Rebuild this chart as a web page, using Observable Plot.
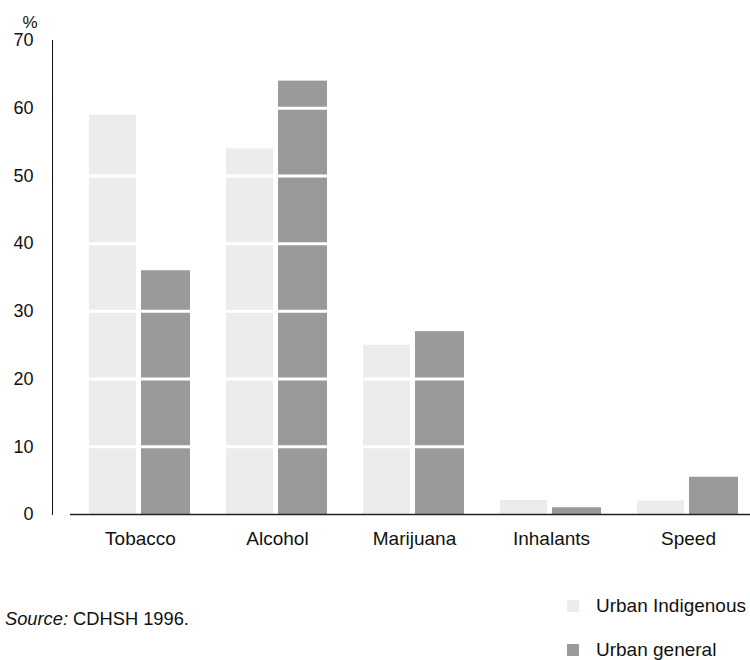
<!DOCTYPE html>
<html>
<head>
<meta charset="utf-8">
<script src="https://cdn.jsdelivr.net/npm/d3@7"></script>
<script src="https://cdn.jsdelivr.net/npm/@observablehq/plot@0.6"></script>
<style>
  html, body { margin: 0; padding: 0; background: #fff; }
  body { width: 750px; height: 660px; overflow: hidden; font-family: "Liberation Sans", Arial, sans-serif; color: #111; }
  #chart { position: absolute; left: 0; top: 0; }
  #foot { position: absolute; left: 0; top: 560px; width: 750px; height: 100px; }
  .src { position: absolute; left: 5px; top: 48px; font-size: 18.3px; }
  .src i { font-style: italic; }
  .leg { position: absolute; left: 567px; font-size: 19px; display: flex; align-items: center; }
  .sw { width: 12px; height: 12px; margin-right: 17px; }
</style>
</head>
<body>
<div id="chart"></div>
<div id="foot">
  <div class="src"><i>Source:</i> CDHSH 1996.</div>
  <div class="leg" style="top:35px"><div class="sw" style="background:#ececec"></div>Urban Indigenous</div>
  <div class="leg" style="top:79px"><div class="sw" style="background:#9a9a9a"></div>Urban general</div>
</div>
<script>
const categories = ["Tobacco", "Alcohol", "Marijuana", "Inhalants", "Speed"];
const urbanIndigenous = [59, 54, 25, 2.1, 2];
const urbanGeneral = [36, 64, 27, 1, 5.5];
const yTicks = [0, 10, 20, 30, 40, 50, 60, 70];
const bandLines = [10, 20, 30, 40, 50, 60];

const indig = categories.map((c, i) => ({drug: c, value: urbanIndigenous[i]}));
const gen = categories.map((c, i) => ({drug: c, value: urbanGeneral[i]}));

const chart = Plot.plot({
  width: 750,
  height: 560,
  marginLeft: 52,
  marginRight: 0,
  marginTop: 40,
  marginBottom: 46,
  style: {fontFamily: "'Liberation Sans', Arial, sans-serif", fontSize: "18px", color: "#111", background: "white"},
  x: {
    type: "band",
    domain: categories,
    range: [71, 756],
    paddingInner: 0.257,
    paddingOuter: 0.124,
    tickSize: 0,
    tickPadding: 17,
    label: null
  },
  y: {
    domain: [0, 70],
    ticks: yTicks,
    tickSize: 0,
    tickPadding: 19,
    line: true,
    label: null
  },
  marks: [
    Plot.barY(indig, {x: "drug", y: "value", fill: "#ececec", insetRight: 55}),
    Plot.barY(gen, {x: "drug", y: "value", fill: "#9a9a9a", insetLeft: 52, insetRight: 1}),
    Plot.ruleY(bandLines, {stroke: "white", strokeWidth: 3, insetLeft: 20}),
    Plot.ruleY([0], {stroke: "#222", strokeWidth: 1.5, insetLeft: 18}),
    Plot.text(["%"], {frameAnchor: "top-left", dx: -30, dy: -25, fontSize: 17})
  ]
});
chart.querySelectorAll('[aria-label="x-axis tick label"] text').forEach(t => t.setAttribute("font-size", "19px"));
document.getElementById("chart").appendChild(chart);
</script>
</body>
</html>
